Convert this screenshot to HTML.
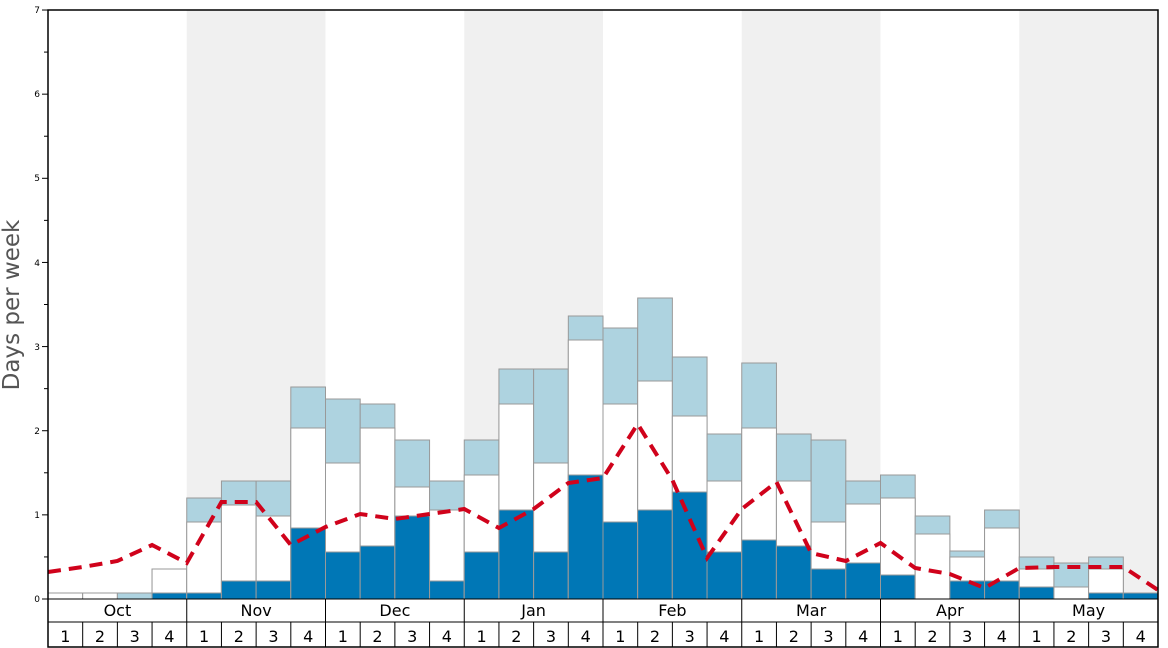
<!DOCTYPE html>
<html><head><meta charset="utf-8"><style>
html,body{margin:0;padding:0;background:#fff;}
svg{display:block;font-family:"DejaVu Sans","Liberation Sans",sans-serif;}
</style></head><body>
<svg id="s" width="1168" height="648" viewBox="0 0 1168 648" xmlns="http://www.w3.org/2000/svg">
<g id="bg">
<rect x="186.75" y="10" width="138.75" height="589" fill="#f0f0f0"/>
<rect x="464.25" y="10" width="138.75" height="589" fill="#f0f0f0"/>
<rect x="741.75" y="10" width="138.75" height="589" fill="#f0f0f0"/>
<rect x="1019.25" y="10" width="138.75" height="589" fill="#f0f0f0"/>
</g>
<g id="bars"></g>
<polyline id="line" fill="none" stroke="#d0021b" stroke-width="4" stroke-dasharray="13,8" points=""/>
<g id="ticks" stroke="#000" stroke-width="1"></g>
<g font-size="9" text-anchor="end" fill="#000">
<text x="40" y="602">0</text><text x="40" y="518">1</text><text x="40" y="434">2</text><text x="40" y="350">3</text><text x="40" y="266">4</text><text x="40" y="181">5</text><text x="40" y="97">6</text><text x="40" y="13">7</text>
</g>
<text transform="translate(19,305) rotate(-90)" font-size="23" fill="#555" text-anchor="middle">Days per week</text>
<rect x="48" y="10" width="1110" height="637" fill="none" stroke="#000" stroke-width="1.5"/>
<line x1="48" y1="599" x2="1158" y2="599" stroke="#000" stroke-width="1"/>
<line x1="48" y1="622" x2="1158" y2="622" stroke="#000" stroke-width="1"/>
<g id="grid" stroke="#000" stroke-width="1"></g>
<g font-size="16" text-anchor="middle" fill="#000">
<text x="117.4" y="616">Oct</text><text x="256.1" y="616">Nov</text><text x="394.9" y="616">Dec</text><text x="533.6" y="616">Jan</text><text x="672.4" y="616">Feb</text><text x="811.1" y="616">Mar</text><text x="949.9" y="616">Apr</text><text x="1088.6" y="616">May</text>
</g>
<g font-size="16" text-anchor="middle" fill="#000">
<text x="65.3" y="642">1</text><text x="100" y="642">2</text><text x="134.7" y="642">3</text><text x="169.4" y="642">4</text>
<text x="204.1" y="642">1</text><text x="238.8" y="642">2</text><text x="273.5" y="642">3</text><text x="308.2" y="642">4</text>
<text x="342.8" y="642">1</text><text x="377.5" y="642">2</text><text x="412.2" y="642">3</text><text x="446.9" y="642">4</text>
<text x="481.6" y="642">1</text><text x="516.3" y="642">2</text><text x="551" y="642">3</text><text x="585.7" y="642">4</text>
<text x="620.3" y="642">1</text><text x="655" y="642">2</text><text x="689.7" y="642">3</text><text x="724.4" y="642">4</text>
<text x="759.1" y="642">1</text><text x="793.8" y="642">2</text><text x="828.5" y="642">3</text><text x="863.2" y="642">4</text>
<text x="897.8" y="642">1</text><text x="932.5" y="642">2</text><text x="967.2" y="642">3</text><text x="1001.9" y="642">4</text>
<text x="1036.6" y="642">1</text><text x="1071.3" y="642">2</text><text x="1106" y="642">3</text><text x="1140.7" y="642">4</text>
</g>
</svg>
<script>
var NS="http://www.w3.org/2000/svg";
var W=(1158-48)/32;
// [total, white, dark] in pixel y
var d=[[593,593,599],[593,593,599],[593,599,599],[569,569,593],
[498,522,593],[481,505,581],[481,516,581],[387,428,528],
[399,463,552],[404,428,546],[440,487,516],[481,510,581],
[440,475,552],[369,404,510],[369,463,552],[316,340,475],
[328,404,522],[298,381,510],[357,416,492],[434,481,552],
[363,428,540],[434,481,546],[440,522,569],[481,504,563],
[475,498,575],[516,534,599],[551,557,581],[510,528,581],
[557,569,587],[563,587,599],[557,569,593],[593,593,593]];
var g=document.getElementById("bars");
function r(x,y,c){if(y>=599)return;var e=document.createElementNS(NS,"rect");e.setAttribute("x",x);e.setAttribute("y",y);e.setAttribute("width",W);e.setAttribute("height",599-y);e.setAttribute("fill",c);e.setAttribute("stroke","#999");e.setAttribute("stroke-width","1");g.appendChild(e);}
d.forEach(function(b,i){var x=48+i*W;r(x,b[0],"#aed3e0");r(x,b[1],"#fff");r(x,b[2],"#0077b6");});
var ly=[572,567,561,545,563,502,502,545,527,514,519,514,509,528,509,483,478,424,480,558,509,482,553,561,543,568,574,588,568,567,567,567,590];
document.getElementById("line").setAttribute("points",ly.map(function(y,i){return (48+i*W)+","+y;}).join(" "));
var t=document.getElementById("ticks");
function ln(p,x1,y1,x2,y2){var e=document.createElementNS(NS,"line");e.setAttribute("x1",x1);e.setAttribute("y1",y1);e.setAttribute("x2",x2);e.setAttribute("y2",y2);p.appendChild(e);}
for(var k=0;k<=14;k++){var y=599-k*84.14/2;ln(t,k%2?44:42,y,48,y);}
var gr=document.getElementById("grid");
for(var i=1;i<32;i++){var x=48+i*W;ln(gr,x,i%4?622:599,x,647);}
</script>
</body></html>
